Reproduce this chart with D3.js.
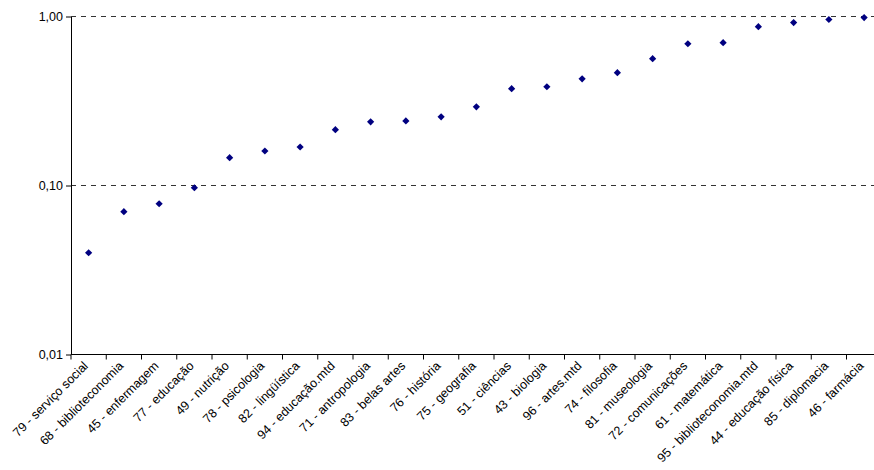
<!DOCTYPE html>
<html><head><meta charset="utf-8">
<script src="https://cdn.jsdelivr.net/npm/d3@7"></script>
<style>body{margin:0;background:#fff}text{font-family:Arial,"Liberation Sans",sans-serif}</style>
</head><body><svg id="c" width="874" height="470"></svg>
<script>
var cursos = ["79 - serviço social","68 - biblioteconomia","45 - enfermagem","77 - educação","49 - nutrição","78 - psicologia","82 - lingüística","94 - educação.mtd","71 - antropologia","83 - belas artes","76 - história","75 - geografia","51 - ciências","43 - biologia","96 - artes.mtd","74 - filosofia","81 - museologia","72 - comunicações","61 - matemática","95 - biblioteconomia.mtd","44 - educação física","85 - diplomacia","46 - farmácia"];
var valores = [0.040,0.070,0.078,0.097,0.146,0.160,0.169,0.214,0.238,0.241,0.255,0.292,0.374,0.384,0.428,0.465,0.563,0.69,0.70,0.87,0.92,0.96,0.985];
var yTicks = [0.01,0.1,1];

var svg = d3.select("#c");
var mLeft = 71, mRight = 71 + 35.25*cursos.length, mTop = 16.5, mBottom = 354.5;
var x = d3.scaleBand().domain(cursos).range([mLeft,mRight]);
var y = d3.scaleLog().domain([0.01,1]).range([mBottom,mTop]);
var fmt = function(d){ return d3.format(".2f")(d).replace(".",","); };

// grid
svg.selectAll(".grid").data([0.1,1]).enter().append("line")
  .attr("x1",mLeft).attr("x2",874).attr("y1",y).attr("y2",y)
  .attr("stroke","#333").attr("stroke-dasharray","5,5").attr("stroke-width",1);

var ya = svg.append("g").attr("transform","translate("+mLeft+",0)")
  .call(d3.axisLeft(y).tickValues(yTicks).tickFormat(fmt).tickSize(5).tickSizeOuter(0));
ya.select(".domain").attr("stroke","#000");
ya.selectAll("text").attr("font-size",12.5).attr("fill","#000");

// x axis, ticks at band edges
var xg = svg.append("g");
xg.append("line").attr("x1",mLeft).attr("x2",874).attr("y1",mBottom).attr("y2",mBottom).attr("stroke","#000");
xg.selectAll(".tk").data(cursos).enter().append("line")
  .attr("x1",function(d){return x(d);}).attr("x2",function(d){return x(d);})
  .attr("y1",mBottom).attr("y2",mBottom+5).attr("stroke","#000");
xg.selectAll(".lb").data(cursos).enter().append("text")
  .attr("transform",function(d){return "translate("+(x(d)+x.bandwidth()/2-6)+","+(mBottom+6)+") rotate(-45)";})
  .attr("text-anchor","end").attr("dy","0.7em").attr("font-size",12.5).text(function(d){return d;});

// points
var sym = d3.symbol().type(d3.symbolSquare).size(26);
svg.selectAll(".pt").data(cursos).enter().append("path")
  .attr("d",sym)
  .attr("transform",function(d,i){return "translate("+(x(d)+x.bandwidth()/2)+","+y(valores[i])+") rotate(45)";})
  .attr("fill","#000080");
</script></body></html>
